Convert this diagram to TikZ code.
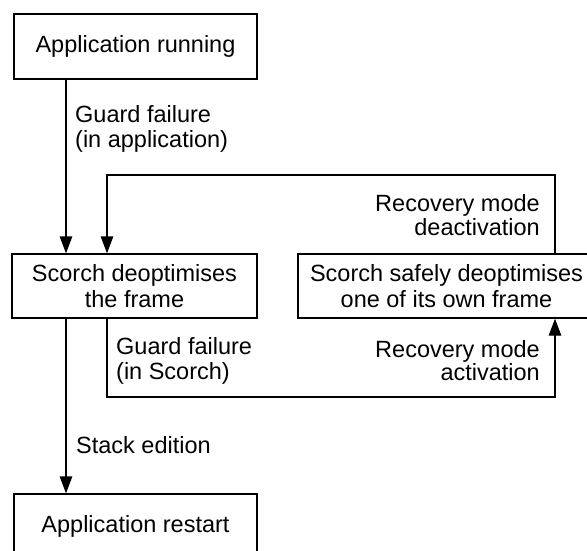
\documentclass[tikz,border=0pt]{standalone}
\usepackage{fontspec}
\setmainfont{Liberation Sans}
\usetikzlibrary{arrows.meta}
\newcommand{\mlines}[3]{{\fontsize{23.5}{#1}\selectfont\begin{tabular}[t]{@{}#2@{}}#3\end{tabular}}}
\begin{document}
\begin{tikzpicture}[x=1pt,y=-1pt,
  box/.style={draw,line width=1.4pt,rectangle,inner sep=0pt,align=center,
    font=\fontsize{23.5}{26}\selectfont},
  arr/.style={line width=1.4pt,-{Triangle[length=17pt,width=12.5pt]}},
  lbl/.style={inner sep=0pt}]
\useasboundingbox (0,0) rectangle (587,551);
\node[box,minimum width=243pt,minimum height=65pt] (b1) at (135.5,46.5) {Application running};
\node[box,minimum width=245pt,minimum height=64pt] (b2) at (134.5,286) {Scorch deoptimises\\the frame};
\node[box,minimum width=297pt,minimum height=64pt] (b3) at (446.5,286) {Scorch safely deoptimises\\one of its own frame};
\node[box,minimum width=243pt,minimum height=65pt] (b4) at (135.5,526.5) {Application restart};
\coordinate (xa) at (66,0);
\coordinate (xb) at (107,0);
\coordinate (t1) at (107,175);
\coordinate (t2) at (555,397);
\draw[arr] (b1.south -| xa) -- (b2.north -| xa);
\draw[arr] (b2.south -| xa) -- (b4.north -| xa);
\draw[arr] (b3.north -| t2) |- (t1) -- (b2.north -| t1);
\draw[arr] (b2.south -| xb) |- (t2) -- (b3.south -| t2);
\node[lbl,anchor=base west] (l1) at (75,123) {\mlines{23.5}{l}{Guard failure\\(in application)}};
\node[lbl,anchor=base east] (l2) at (540,211.5) {\mlines{22}{r}{Recovery mode\\deactivation}};
\node[lbl,anchor=base west] (l3) at (116,354) {\mlines{25}{l}{Guard failure\\(in Scorch)}};
\node[lbl,anchor=base east] (l4) at (540,357) {\mlines{22}{r}{Recovery mode\\activation}};
\node[lbl,anchor=base west] (l5) at (76,453) {\mlines{25}{l}{Stack edition}};
\end{tikzpicture}
\end{document}
